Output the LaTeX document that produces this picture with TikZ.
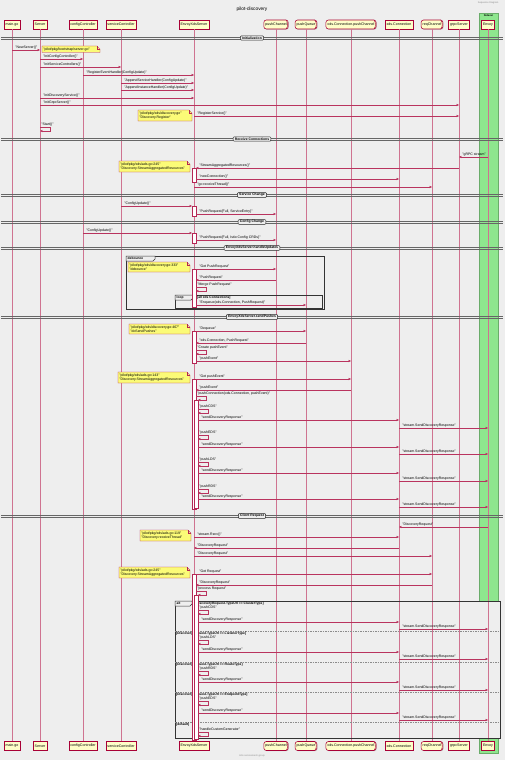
\documentclass[tikz,border=0pt]{standalone}
\usepackage{fontspec}
\setmainfont{Liberation Sans}
\usetikzlibrary{arrows.meta,shadows}
\definecolor{bgc}{HTML}{EEEEEE}
\definecolor{umlred}{HTML}{A80036}
\definecolor{partfill}{HTML}{FEFEC8}
\definecolor{notefill}{HTML}{FBFB77}
\definecolor{sidecarfill}{HTML}{8EE68E}
\newcounter{sqm}
\tikzset{
  txt/.style={font=\fontsize{3.5}{4}\selectfont},
  part/.style={draw=umlred, fill=partfill, line width=0.55pt, font=\fontsize{3.6}{4}\selectfont,
    inner xsep=1.6pt, inner ysep=0pt, minimum height=9pt,
    drop shadow={shadow xshift=0.7pt, shadow yshift=-0.7pt, opacity=0.3}},
  queuepart/.style={part, rounded corners=2.5pt},
  life/.style={draw=umlred!55!white, line width=0.35pt},
  msgline/.style={draw=umlred!80!white, line width=0.35pt, -{Triangle[length=2.3pt,width=2.1pt]}},
  lbl/.style={txt, inner sep=0.2pt, anchor=south west},
  actbox/.style={draw=umlred!85!white, fill=white, line width=0.35pt},
  divline/.style={draw=black!60, line width=0.6pt},
  divlbl/.style={draw=black!85, fill=bgc, rounded corners=1pt, line width=0.5pt,
    font=\bfseries\fontsize{3.4}{4}\selectfont, inner xsep=1.8pt, inner ysep=0.9pt},
  frameline/.style={draw=black!80, line width=0.8pt},
  tabtxt/.style={font=\bfseries\fontsize{3.3}{4}\selectfont, inner sep=0pt, anchor=west},
  notebg/.style={draw=umlred!85!white, fill=notefill, line width=0.35pt},
  notetxt/.style={font=\fontsize{3.5}{4}\selectfont, align=left, inner sep=0pt, anchor=west},
}
% message between two lifelines: from x, to x, y, label
\newcommand\sqmsg[4]{%
  \stepcounter{sqm}%
  \draw[msgline] (#1,#3) -- (#2,#3);
  \node[lbl] (msg-\arabic{sqm}) at ({min(#1,#2)+3},#3-0.5) {#4};}
% message to self: start x, return x, top y, label
\newcommand\sqself[4]{%
  \stepcounter{sqm}%
  \node[lbl] (msg-\arabic{sqm}) at (#1+1,#3-0.6) {#4};
  \draw[msgline] (#1,#3) -- (#1+10,#3) -- (#1+10,#3+4) -- (#2,#3+4);}
% note with folded corner: name, x1, y1, x2, y2, text
\newcommand\sqnote[6]{%
  \filldraw[notebg] (#2,#3) -- (#4-3,#3) -- (#4,#3+3) -- (#4,#5) -- (#2,#5) -- cycle;
  \draw[notebg, fill=none] (#4-3,#3) -- (#4-3,#3+3) -- (#4,#3+3);
  \node[notetxt] (#1) at (#2+1.2,{(#3+#5)/2}) {#6};}
% section divider: name, y, label
\newcommand\sqdiv[3]{%
  \draw[divline] (1,#2-1) -- (503,#2-1) (1,#2+1) -- (503,#2+1);
  \node[divlbl] (#1) at (252,#2) {#3};}
% activation bar: x, y1, y2
\newcommand\sqact[3]{\filldraw[actbox] (#1-2,#2) rectangle (#1+2,#3);}
% curved end of a queue participant
\newcommand\sqqueue[1]{\draw[umlred, line width=0.4pt] ([xshift=-2.5pt]#1.north east) to[bend left=35] ([xshift=-2.5pt]#1.south east);}
% group tab: name, x, y, width, label
\newcommand\sqtab[5]{%
  \filldraw[frameline, line width=0.5pt, fill=bgc] (#2,#3) -- (#2+#4,#3) -- (#2+#4,#3+3) -- (#2+#4-2,#3+5) -- (#2,#3+5) -- cycle;
  \node[tabtxt] (#1) at (#2+1.5,#3+2.5) {#5};}

\def\xMain{12}
\def\xSrv{40}
\def\xCfg{83}
\def\xSvc{121}
\def\xXds{194}
\def\xPch{276}
\def\xPq{306}
\def\xCpc{351}
\def\xConn{399}
\def\xReq{432}
\def\xGrpc{459}
\def\xEnv{488}

\begin{document}
\begin{tikzpicture}[x=1pt,y=-1pt]
\fill[bgc] (0,0) rectangle (505,760);
\useasboundingbox (0,0) rectangle (505,760);

% title, header and footer
\node[font=\fontsize{4.8}{5}\selectfont] (title) at (252,9) {pilot-discovery};
\node[font=\fontsize{2.4}{3}\selectfont, text=black!45, anchor=east] (hdr) at (502,3) {Sequence Diagram};
\node[font=\fontsize{2.4}{3}\selectfont, text=black!45] (ftr) at (252,756) {Istio servicemesh group};

% sidecar box
\filldraw[fill=sidecarfill, draw=sidecarfill!75!black, line width=0.3pt] (479,13) rectangle (498,753);
\node[font=\bfseries\fontsize{2.6}{3}\selectfont] (sidecarlbl) at (488.5,15.6) {Sidecar};

% group frames (background)
\filldraw[frameline, fill=bgc] (126,256) rectangle (324,309);
\filldraw[frameline, fill=bgc] (175,295) rectangle (322,308);
\filldraw[frameline, fill=bgc] (175,601) rectangle (500,738);

% participants
\node[part] (mainT) at (\xMain,24.5) {main.go};
\node[part] (srvT) at (\xSrv,24.5) {Server};
\node[part] (cfgT) at (\xCfg,24.5) {configController};
\node[part] (svcT) at (\xSvc,24.5) {serviceController};
\node[part] (xdsT) at (\xXds,24.5) {EnvoyXdsServer};
\node[queuepart] (pchT) at (\xPch,24.5) {pushChannel};
\node[queuepart] (pqT) at (\xPq,24.5) {pushQueue};
\node[queuepart] (cpcT) at (\xCpc,24.5) {xds.Connection.pushChannel};
\node[part] (connT) at (\xConn,24.5) {xds.Connection};
\node[queuepart] (reqT) at (\xReq,24.5) {reqChannel};
\node[part] (grpcT) at (\xGrpc,24.5) {grpcServer};
\node[part] (envT) at (\xEnv,24.5) {Envoy};

\node[part] (mainB) at (\xMain,746) {main.go};
\node[part] (srvB) at (\xSrv,746) {Server};
\node[part] (cfgB) at (\xCfg,746) {configController};
\node[part] (svcB) at (\xSvc,746) {serviceController};
\node[part] (xdsB) at (\xXds,746) {EnvoyXdsServer};
\node[queuepart] (pchB) at (\xPch,746) {pushChannel};
\node[queuepart] (pqB) at (\xPq,746) {pushQueue};
\node[queuepart] (cpcB) at (\xCpc,746) {xds.Connection.pushChannel};
\node[part] (connB) at (\xConn,746) {xds.Connection};
\node[queuepart] (reqB) at (\xReq,746) {reqChannel};
\node[part] (grpcB) at (\xGrpc,746) {grpcServer};
\node[part] (envB) at (\xEnv,746) {Envoy};

\foreach \q in {pchT,pqT,cpcT,reqT,pchB,pqB,cpcB,reqB}{\sqqueue{\q}}

% lifelines
\foreach \p in {main,srv,cfg,svc,xds,pch,pq,cpc,conn,req,grpc,env}{\draw[life] (\p T) -- (\p B);}

% group frame borders, tabs and conditions
\draw[frameline] (126,256) rectangle (324,309);
\draw[frameline] (175,295) rectangle (322,308);
\draw[frameline] (175,601) rectangle (500,738);
\sqtab{tabDeb}{126}{256}{29}{debounce}
\sqtab{tabLoop}{175}{295}{18}{loop}
\node[tabtxt] (condLoop) at (197,297.5) {[all xds Connections]};
\sqtab{tabAlt}{175}{601}{17}{alt}
\node[tabtxt] (condCds) at (195,603.5) {[DiscoveryRequest.TypeUrl == ClusterType]};
\draw[black!45, line width=0.3pt, dash pattern=on 1.5pt off 1pt] (175,631) -- (500,631) (175,662) -- (500,662) (175,692) -- (500,692) (175,722) -- (500,722);
\node[tabtxt] (condLds) at (176,633.5) {[DiscoveryRequest.TypeUrl == ListenerType]};
\node[tabtxt] (condRds) at (176,664.5) {[DiscoveryRequest.TypeUrl == RouteType]};
\node[tabtxt] (condEds) at (176,694.5) {[DiscoveryRequest.TypeUrl == EndpointType]};
\node[tabtxt] (condDef) at (176,724.5) {[default]};

% section dividers
\sqdiv{dInit}{38}{Initialization}
\sqdiv{dRecv}{139}{Receive Connections}
\sqdiv{dSvc}{195}{Service Change}
\sqdiv{dCfg}{222}{Config Change}
\sqdiv{dHandle}{248}{EnvoyXdsServer.handleUpdates}
\sqdiv{dSend}{317}{EnvoyXdsServer.sendPushes}
\sqdiv{dClient}{516}{Client Request}

% activation bars
\sqact{\xXds}{168}{182}
\sqact{\xXds}{206}{216}
\sqact{\xXds}{233}{243}
\sqact{\xXds}{269}{307}
\sqact{\xXds}{331}{363}
\sqact{\xXds}{379}{509}
\sqact{196}{400}{508}
\sqact{\xXds}{574}{740}
\sqact{196}{595}{739}

% Initialization
\sqmsg{\xMain}{\xSrv}{50}{"NewServer()"}
\sqnote{nSrv}{42}{46}{100}{52.5}{"pilot/pkg/bootstrap/server.go"}
\sqmsg{\xSrv}{\xCfg}{59}{"initConfigController()"}
\sqmsg{\xSrv}{\xSvc}{67}{"initServiceControllers()"}
\sqmsg{\xCfg}{\xXds}{75}{"RegisterEventHandler(ConfigUpdate)"}
\sqmsg{\xSvc}{\xXds}{83}{"AppendServiceHandler(ConfigUpdate)"}
\sqmsg{\xSvc}{\xXds}{90}{"AppendInstanceHandler(ConfigUpdate)"}
\sqmsg{\xSrv}{\xXds}{98}{"initDiscoveryService()"}
\sqmsg{\xSrv}{\xGrpc}{105}{"initGrpcServer()"}
\sqnote{nDisc}{138}{110}{192}{121}{"pilot/pkg/xds/discovery.go"\\"Discovery.Register"}
\sqmsg{\xXds}{\xGrpc}{116}{"RegisterService()"}
\sqself{\xSrv}{\xSrv}{127}{"Start()"}

% Receive Connections
\sqmsg{\xEnv}{\xGrpc}{157}{"gRPC stream"}
\sqnote{nAdsA}{119}{161}{190}{172}{"pilot/pkg/xds/ads.go:245"\\"Discovery.StreamAggregatedResources"}
\sqmsg{\xGrpc}{196}{168}{"StreamAggregatedResources()"}
\sqmsg{196}{\xConn}{179}{"newConnection()"}
\sqmsg{\xXds}{\xReq}{187}{"go receiveThread()"}

% Service Change
\sqmsg{\xSvc}{192}{206}{"ConfigUpdate()"}
\sqmsg{196}{\xPch}{214}{"PushRequest\{Full, ServiceEntry\}"}

% Config Change
\sqmsg{\xCfg}{192}{233}{"ConfigUpdate()"}
\sqmsg{196}{\xPch}{240}{"PushRequest\{Full, Istio Config CRDs\}"}

% handleUpdates
\sqnote{nDeb}{128}{262}{190}{272}{"pilot/pkg/xds/discovery.go:333"\\"debounce"}
\sqmsg{196}{\xPch}{269}{"Get PushRequest"}
\sqmsg{\xPch}{196}{280}{"PushRequest"}
\sqself{196}{196}{287}{"Merge PushRequest"}
\sqmsg{196}{\xPq}{305}{"Enqueue(xds.Connection, PushRequest)"}

% sendPushes
\sqnote{nSend}{129}{324}{190}{334}{"pilot/pkg/xds/discovery.go:467"\\"doSendPushes"}
\sqmsg{196}{\xPq}{331}{"Dequeue"}
\sqmsg{\xPq}{196}{343}{"xds.Connection, PushRequest"}
\sqself{196}{196}{350}{"Create pushEvent"}
\sqmsg{196}{\xCpc}{361}{"pushEvent"}

% push loop of the stream
\sqnote{nAdsB}{118}{372}{190}{383}{"pilot/pkg/xds/ads.go:143"\\"Discovery.StreamAggregatedResources"}
\sqmsg{196}{\xCpc}{379}{"Get pushEvent"}
\sqmsg{\xCpc}{196}{390}{"pushEvent"}
\sqself{196}{198}{396}{"pushConnection(xds.Connection, pushEvent)"}
\sqself{198}{198}{409}{"pushCDS"}
\sqmsg{198}{\xConn}{420}{"sendDiscoveryResponse"}
\sqmsg{\xConn}{\xEnv}{428}{"stream.SendDiscoveryResponse"}
\sqself{198}{198}{435}{"pushEDS"}
\sqmsg{198}{\xConn}{447}{"sendDiscoveryResponse"}
\sqmsg{\xConn}{\xEnv}{454}{"stream.SendDiscoveryResponse"}
\sqself{198}{198}{462}{"pushLDS"}
\sqmsg{198}{\xConn}{473}{"sendDiscoveryResponse"}
\sqmsg{\xConn}{\xEnv}{481}{"stream.SendDiscoveryResponse"}
\sqself{198}{198}{489}{"pushRDS"}
\sqmsg{198}{\xConn}{499}{"sendDiscoveryResponse"}
\sqmsg{\xConn}{\xEnv}{507}{"stream.SendDiscoveryResponse"}

% Client Request
\sqmsg{\xEnv}{\xConn}{527}{"DiscoveryRequest"}
\sqnote{nRecv}{140}{530}{191}{541}{"pilot/pkg/xds/ads.go:119"\\"Discovery.receiveThread"}
\sqmsg{\xXds}{\xConn}{537}{"stream.Recv()"}
\sqmsg{\xConn}{\xXds}{548}{"DiscoveryRequest"}
\sqmsg{\xXds}{\xReq}{556}{"DiscoveryRequest"}

% request processing
\sqnote{nAdsC}{119}{567}{190}{578}{"pilot/pkg/xds/ads.go:245"\\"Discovery.StreamAggregatedResources"}
\sqmsg{196}{\xReq}{574}{"Get Request"}
\sqmsg{\xReq}{196}{585}{"DiscoveryRequest"}
\sqself{196}{198}{591}{"process Request"}
\sqself{198}{198}{610}{"pushCDS"}
\sqmsg{198}{\xConn}{622}{"sendDiscoveryResponse"}
\sqmsg{\xConn}{\xEnv}{629}{"stream.SendDiscoveryResponse"}
\sqself{198}{198}{640}{"pushLDS"}
\sqmsg{198}{\xConn}{652}{"sendDiscoveryResponse"}
\sqmsg{\xConn}{\xEnv}{659}{"stream.SendDiscoveryResponse"}
\sqself{198}{198}{671}{"pushRDS"}
\sqmsg{198}{\xConn}{682}{"sendDiscoveryResponse"}
\sqmsg{\xConn}{\xEnv}{690}{"stream.SendDiscoveryResponse"}
\sqself{198}{198}{701}{"pushEDS"}
\sqmsg{198}{\xConn}{713}{"sendDiscoveryResponse"}
\sqmsg{\xConn}{\xEnv}{720}{"stream.SendDiscoveryResponse"}
\sqself{198}{198}{732}{"handleCustomGenerator"}
\end{tikzpicture}
\end{document}
